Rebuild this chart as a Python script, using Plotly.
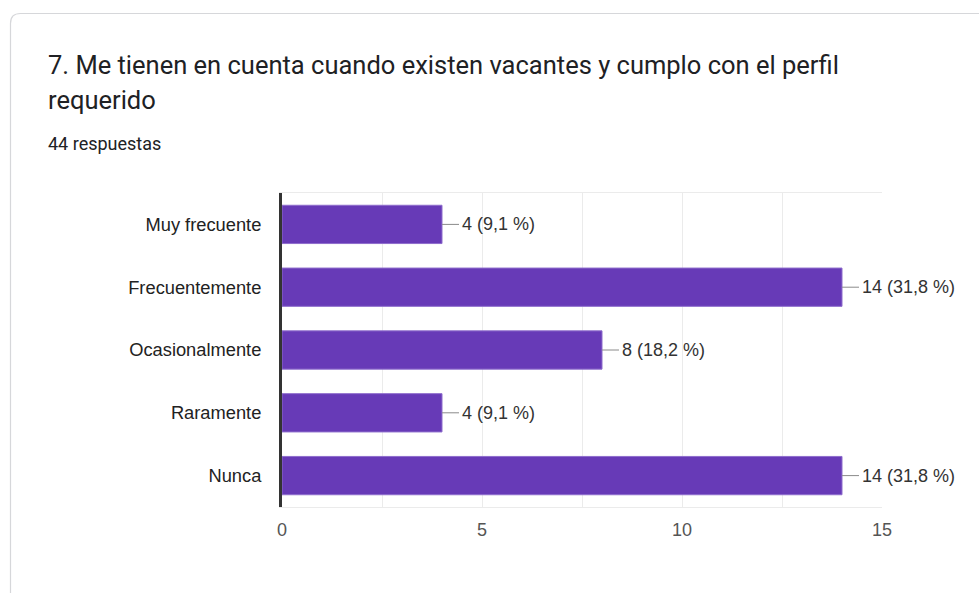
import plotly.graph_objects as go

# Survey answers for question 7
categories = ["Muy frecuente", "Frecuentemente", "Ocasionalmente", "Raramente", "Nunca"]
counts = [4, 14, 8, 4, 14]
x_ticks = [0, 5, 10, 15]
total_responses = 44

title_line1 = "7. Me tienen en cuenta cuando existen vacantes y cumplo con el perfil"
title_line2 = "requerido"
subtitle = "44 respuestas"

W, H = 979, 593
PLOT_L, PLOT_R, PLOT_T, PLOT_B = 282, 882, 193, 507
X_MAX = 15
px_per_unit = (PLOT_R - PLOT_L) / X_MAX


def xp(px):
    return (px - PLOT_L) / (PLOT_R - PLOT_L)


def yp(py):
    return (PLOT_B - py) / (PLOT_B - PLOT_T)


def pct_label(v):
    pct = f"{100 * v / total_responses:.1f}".replace(".", ",")
    return f"{v} ({pct} %)"


PURPLE = "#673ab7"
SANS = "Liberation Sans, Arial, sans-serif"

fig = go.Figure()

fig.add_trace(go.Bar(
    x=counts,
    y=categories,
    orientation="h",
    width=0.61,
    marker=dict(color=PURPLE, line=dict(color="#8e6dcc", width=1)),
    hoverinfo="skip",
    showlegend=False,
))

# short leader lines from each bar end to its value label
lead = 17 / px_per_unit
lx, ly = [], []
for c, v in zip(categories, counts):
    lx += [v, v + lead, None]
    ly += [c, c, None]
fig.add_trace(go.Scatter(
    x=lx, y=ly, mode="lines",
    line=dict(color="#8a8a8a", width=1),
    hoverinfo="skip", showlegend=False, cliponaxis=False,
))

annotations = []
for c, v in zip(categories, counts):
    annotations.append(dict(
        x=v, y=c, xref="x", yref="y",
        xshift=18, xanchor="left", yanchor="middle",
        text=pct_label(v), showarrow=False,
        font=dict(family=SANS, size=18, color="#333333"),
    ))

# card header texts
annotations += [
    dict(x=xp(46), y=yp(65), xref="paper", yref="paper", xanchor="left", yanchor="middle",
         text=title_line1, showarrow=False,
         font=dict(family="Roboto, sans-serif", size=25.5, color="#202124")),
    dict(x=xp(46), y=yp(100), xref="paper", yref="paper", xanchor="left", yanchor="middle",
         text=title_line2, showarrow=False,
         font=dict(family="Roboto, sans-serif", size=25.5, color="#202124")),
    dict(x=xp(46), y=yp(143), xref="paper", yref="paper", xanchor="left", yanchor="middle",
         text=subtitle, showarrow=False,
         font=dict(family="Roboto, sans-serif", size=18, color="#202124")),
]

# rounded card outline
L, T, R, B = xp(10.5), yp(13.5), xp(1010), yp(640)
rx, ry = 10 / (PLOT_R - PLOT_L), 10 / (PLOT_B - PLOT_T)
card_path = (f"M {L},{B} L {L},{T - ry} Q {L},{T} {L + rx},{T} "
             f"L {R},{T} L {R},{B} Z")

fig.update_layout(
    width=W, height=H,
    margin=dict(l=PLOT_L, r=W - PLOT_R, t=PLOT_T, b=H - PLOT_B, pad=0),
    paper_bgcolor="white",
    plot_bgcolor="white",
    annotations=annotations,
    shapes=[dict(type="path", path=card_path, xref="paper", yref="paper",
                 line=dict(color="#d6d7da", width=1.2), fillcolor="rgba(0,0,0,0)",
                 layer="below")],
    xaxis=dict(
        range=[0, X_MAX],
        tickvals=x_ticks,
        showgrid=True, gridcolor="#ebebeb", gridwidth=1,
        minor=dict(dtick=2.5, showgrid=True, gridcolor="#ebebeb", gridwidth=1),
        showline=True, mirror=True, linecolor="#ebebeb", linewidth=1,
        zeroline=False,
        ticks="", ticklabelstandoff=6,
        tickfont=dict(family=SANS, size=18, color="#555555"),
        fixedrange=True,
    ),
    yaxis=dict(
        autorange="reversed",
        showgrid=False,
        showline=True, linecolor="#333333", linewidth=3,
        ticks="", ticklabelstandoff=14,
        tickfont=dict(family=SANS, size=18.3, color="#222222"),
        fixedrange=True,
    ),
    hovermode=False,
)

fig.write_html("out.html", config={"displayModeBar": False})
